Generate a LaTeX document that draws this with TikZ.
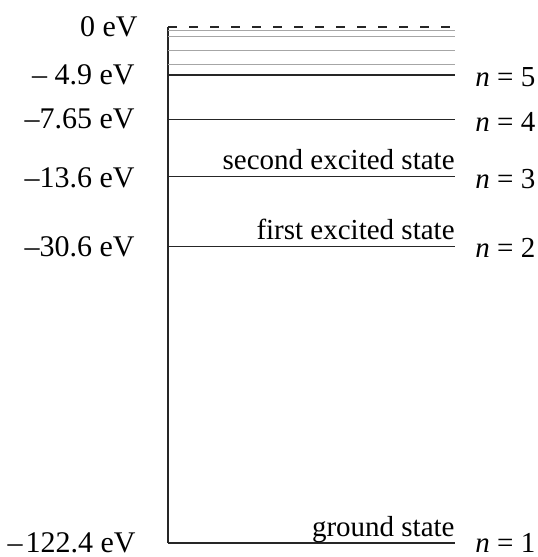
\documentclass[tikz,border=0pt]{standalone}
\usepackage{fontspec}
\setmainfont{Liberation Serif}
\begin{document}
\begin{tikzpicture}[x=0.5pt,y=-0.5pt,
  lvl/.style={line width=0.75pt,black!85},
  sub/.style={line width=0.5pt,black!35},
  lab/.style={font=\fontsize{14.5}{17}\selectfont,inner sep=0pt},
  elab/.style={lab,font=\fontsize{15}{18}\selectfont,anchor=east},
  nlab/.style={lab,anchor=west},
  slab/.style={lab,anchor=base east}]
\useasboundingbox (0,0) rectangle (537,557);
% axis
\coordinate (top) at (168,27);
\coordinate (bot) at (168,543);
\draw[lvl] (top) -- (bot);
% levels
\coordinate (z0) at (168,27);   \coordinate (z1) at (455,27);
\draw[line width=0.7pt,black!85,dash pattern=on 4.5pt off 6pt] (z0) -- (z1);
\foreach \y in {30,36.7,50,64.3}{
  \draw[sub] (168,\y) -- (455,\y);
}
\coordinate (a5) at (168,75);    \coordinate (b5) at (455,75);
\coordinate (a4) at (168,119.5); \coordinate (b4) at (455,119.5);
\coordinate (a3) at (168,176.7); \coordinate (b3) at (455,176.7);
\coordinate (a2) at (168,246.7); \coordinate (b2) at (455,246.7);
\coordinate (a1) at (168,543);   \coordinate (b1) at (455,543);
\foreach \i in {5,4,3,2,1}{\draw[lvl] (a\i) -- (b\i);}
% energy labels
\node[elab] (e0) at (138,27) {0 eV};
\node[elab] (e5) at (135,75) {– 4.9 eV};
\node[elab] (e4) at (135,119) {–7.65 eV};
\node[elab] (e3) at (135,178) {–13.6 eV};
\node[elab] (e2) at (135,247) {–30.6 eV};
\node[elab] (e1) at (136,542.5) {–\kern1.5pt 122.4 eV};
% n labels
\node[nlab] (n5) at (475,77) {\textit{n} = 5};
\node[nlab] (n4) at (475,122) {\textit{n} = 4};
\node[nlab] (n3) at (475,179) {\textit{n} = 3};
\node[nlab] (n2) at (475,248) {\textit{n} = 2};
\node[nlab] (n1) at (475,543) {\textit{n} = 1};
% state labels
\node[slab] (s3) at (455,169) {second excited state};
\node[slab] (s2) at (455,239.5) {first excited state};
\node[slab] (s1) at (455,536) {ground state};
\end{tikzpicture}
\end{document}
